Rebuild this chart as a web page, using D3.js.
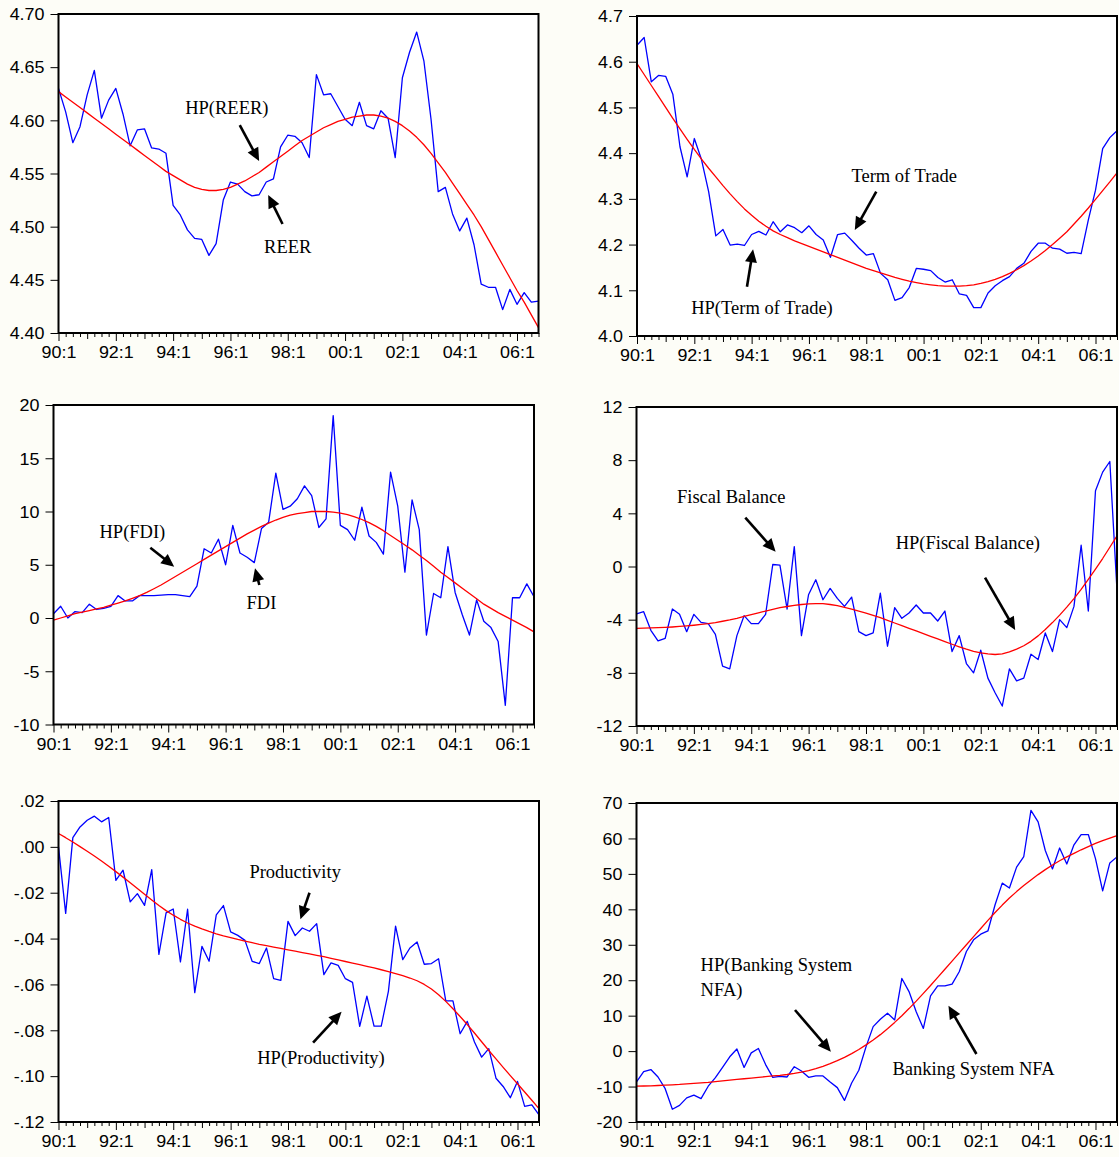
<!DOCTYPE html>
<html>
<head>
<meta charset="utf-8">
<script src="https://cdn.jsdelivr.net/npm/d3@7"></script>
<style>
  html, body { margin: 0; padding: 0; background: #fdfdf7; }
  svg { display: block; }
  .tick text { font-family: "Liberation Sans", Arial, sans-serif; font-size: 16px; fill: #000; }
  .note { font-family: "Liberation Serif", "Times New Roman", serif; font-size: 18.5px; fill: #000; }
</style>
</head>
<body>
<svg id="chart" width="1119" height="1157"></svg>
<script>
// Quarterly observations, 1990Q1 - 2006Q4 (68 quarters)
const quarterLabels = ["90:1", "92:1", "94:1", "96:1", "98:1", "00:1", "02:1", "04:1", "06:1"];

const reer = [4.630,4.608,4.579,4.594,4.624,4.647,4.602,4.619,4.630,4.606,
  4.576,4.591,4.592,4.574,4.573,4.569,4.520,4.511,4.497,4.489,
  4.488,4.473,4.484,4.525,4.542,4.540,4.533,4.529,4.530,4.542,
  4.545,4.575,4.586,4.585,4.579,4.565,4.643,4.624,4.625,4.613,
  4.601,4.595,4.617,4.595,4.592,4.609,4.602,4.565,4.640,4.664,
  4.683,4.656,4.601,4.533,4.537,4.512,4.496,4.508,4.483,4.446,
  4.443,4.443,4.422,4.441,4.427,4.438,4.429,4.430];
const hpReer = [4.627,4.622,4.617,4.612,4.607,4.602,4.597,4.592,4.587,4.582,
  4.577,4.572,4.567,4.562,4.557,4.552,4.548,4.544,4.540,4.537,
  4.535,4.534,4.534,4.535,4.537,4.540,4.543,4.547,4.551,4.556,
  4.561,4.566,4.571,4.576,4.581,4.585,4.589,4.593,4.596,4.599,
  4.601,4.603,4.604,4.605,4.605,4.604,4.602,4.599,4.595,4.590,
  4.584,4.577,4.569,4.560,4.551,4.541,4.531,4.521,4.511,4.500,
  4.488,4.476,4.464,4.452,4.440,4.429,4.417,4.405];
const reerTicks = [4.40, 4.45, 4.50, 4.55, 4.60, 4.65, 4.70];

const tot = [4.636,4.653,4.556,4.570,4.568,4.529,4.414,4.348,4.432,4.386,
  4.316,4.219,4.233,4.199,4.201,4.198,4.222,4.229,4.221,4.250,
  4.228,4.243,4.237,4.226,4.241,4.222,4.210,4.172,4.222,4.225,
  4.209,4.192,4.177,4.180,4.137,4.123,4.078,4.084,4.106,4.148,
  4.146,4.143,4.128,4.118,4.123,4.092,4.089,4.062,4.062,4.094,
  4.110,4.121,4.130,4.148,4.159,4.185,4.203,4.203,4.192,4.190,
  4.181,4.183,4.180,4.254,4.319,4.410,4.434,4.449];
const hpTot = [4.596,4.572,4.548,4.524,4.500,4.476,4.453,4.430,4.408,4.387,
  4.367,4.348,4.329,4.311,4.294,4.278,4.264,4.251,4.240,4.230,
  4.222,4.215,4.208,4.202,4.196,4.190,4.184,4.178,4.172,4.166,
  4.160,4.154,4.148,4.143,4.138,4.133,4.128,4.124,4.120,4.117,
  4.114,4.112,4.110,4.109,4.109,4.109,4.110,4.112,4.115,4.119,
  4.124,4.130,4.137,4.145,4.154,4.164,4.175,4.187,4.200,4.214,
  4.228,4.245,4.262,4.280,4.299,4.318,4.337,4.357];
const totTicks = [4.0, 4.1, 4.2, 4.3, 4.4, 4.5, 4.6, 4.7];

const fdi = [0.4,1.1,0.0,0.6,0.5,1.3,0.8,0.9,1.1,2.1,
  1.6,1.6,2.1,2.1,2.1,2.15,2.2,2.2,2.1,2.0,
  3.0,6.5,6.1,7.4,5.0,8.7,6.1,5.7,5.2,8.4,
  9.0,13.6,10.2,10.5,11.2,12.4,11.5,8.5,9.3,19.0,
  8.7,8.3,7.3,10.4,7.7,7.1,6.0,13.7,10.5,4.3,
  11.1,8.3,-1.6,2.3,1.9,6.7,2.4,0.3,-1.6,1.7,
  -0.3,-0.9,-2.2,-8.2,1.9,1.9,3.2,2.0];
const hpFdi = [-0.2,0.0,0.2,0.4,0.55,0.7,0.85,1.0,1.2,1.4,
  1.6,1.85,2.1,2.4,2.75,3.1,3.5,3.9,4.3,4.7,
  5.1,5.5,5.9,6.3,6.7,7.1,7.5,7.9,8.25,8.6,
  8.9,9.2,9.45,9.65,9.8,9.9,10.0,10.0,10.0,9.95,
  9.85,9.7,9.5,9.25,8.95,8.6,8.2,7.75,7.3,6.85,
  6.4,5.9,5.4,4.85,4.3,3.8,3.3,2.8,2.3,1.8,
  1.3,0.9,0.5,0.15,-0.2,-0.55,-0.9,-1.3];
const fdiTicks = [-10, -5, 0, 5, 10, 15, 20];

const fiscal = [-3.56,-3.4,-4.8,-5.6,-5.4,-3.2,-3.6,-4.9,-3.6,-4.2,
  -4.3,-5.1,-7.5,-7.7,-5.2,-3.7,-4.3,-4.3,-3.6,0.15,
  0.1,-3.2,1.5,-5.2,-2.1,-1.0,-2.5,-1.65,-2.4,-3.0,
  -2.3,-4.9,-5.2,-5.0,-2.0,-6.0,-3.1,-3.9,-3.5,-2.9,
  -3.5,-3.5,-4.1,-3.35,-6.4,-5.2,-7.3,-8.0,-6.3,-8.4,
  -9.5,-10.5,-7.7,-8.6,-8.4,-6.6,-7.0,-5.0,-6.4,-4.0,
  -4.6,-3.0,1.6,-3.35,5.7,7.1,7.9,-1.8];
const hpFiscal = [-4.66,-4.64,-4.62,-4.60,-4.58,-4.55,-4.51,-4.47,-4.42,-4.36,
  -4.30,-4.22,-4.12,-4.02,-3.90,-3.76,-3.62,-3.48,-3.35,-3.22,
  -3.10,-3.01,-2.93,-2.86,-2.81,-2.79,-2.80,-2.86,-2.95,-3.07,
  -3.20,-3.35,-3.50,-3.67,-3.85,-4.05,-4.25,-4.45,-4.65,-4.85,
  -5.05,-5.25,-5.45,-5.65,-5.85,-6.04,-6.22,-6.38,-6.50,-6.58,
  -6.62,-6.57,-6.43,-6.22,-5.96,-5.63,-5.22,-4.74,-4.22,-3.66,
  -3.06,-2.42,-1.72,-0.97,-0.2,0.6,1.45,2.3];
const fiscalTicks = [-12, -8, -4, 0, 4, 8, 12];

const prod = [0.000,-0.029,0.004,0.0087,0.0116,0.0134,0.0109,0.0128,-0.0146,-0.0102,
  -0.024,-0.0204,-0.0255,-0.0099,-0.0469,-0.0288,-0.0271,-0.0502,-0.0272,-0.0636,
  -0.0434,-0.0499,-0.0297,-0.0256,-0.0371,-0.0386,-0.0408,-0.0499,-0.0509,-0.0441,
  -0.0575,-0.0582,-0.0325,-0.0387,-0.0354,-0.0368,-0.0335,-0.0557,-0.0506,-0.0517,
  -0.0575,-0.0591,-0.0783,-0.0651,-0.0782,-0.0782,-0.0630,-0.0346,-0.0492,-0.0441,
  -0.0415,-0.0512,-0.0509,-0.0488,-0.0672,-0.0672,-0.0815,-0.0761,-0.0851,-0.0917,
  -0.0880,-0.1009,-0.1045,-0.1094,-0.1023,-0.1132,-0.1125,-0.1169];
const hpProd = [0.0058,0.0040,0.0021,0.0001,-0.0019,-0.0040,-0.0062,-0.0085,-0.0108,-0.0132,
  -0.0157,-0.0182,-0.0207,-0.0232,-0.0256,-0.0278,-0.0298,-0.0316,-0.0332,-0.0346,
  -0.0358,-0.0369,-0.0379,-0.0388,-0.0396,-0.0404,-0.0411,-0.0418,-0.0425,-0.0431,
  -0.0437,-0.0443,-0.0449,-0.0455,-0.0461,-0.0467,-0.0473,-0.0479,-0.0486,-0.0493,
  -0.0500,-0.0507,-0.0514,-0.0521,-0.0528,-0.0536,-0.0544,-0.0553,-0.0562,-0.0572,
  -0.0584,-0.0600,-0.0620,-0.0645,-0.0674,-0.0706,-0.0740,-0.0775,-0.0812,-0.0850,
  -0.0888,-0.0925,-0.0962,-0.0998,-0.1033,-0.1069,-0.1105,-0.1142];
const prodTicks = [-0.12, -0.10, -0.08, -0.06, -0.04, -0.02, 0.00, 0.02];

const nfa = [-8.7,-5.8,-5.2,-7.3,-10.6,-16.4,-15.3,-13.2,-12.4,-13.4,
  -9.9,-7.5,-4.6,-1.6,0.6,-4.6,-0.5,0.75,-3.8,-7.4,
  -7.1,-7.3,-4.4,-5.6,-7.4,-7.0,-7.0,-8.7,-10.3,-13.9,
  -9.0,-5.4,1.2,6.9,9.0,10.7,8.8,20.5,16.8,11.1,
  6.4,15.6,18.4,18.4,18.9,22.4,28.1,31.4,33.0,33.9,
  41.3,47.4,46.0,51.9,54.9,67.9,64.7,56.6,51.4,57.3,
  52.8,58.2,61.1,61.1,54.3,45.2,53.1,54.8];
const hpNfa = [-9.9,-9.85,-9.8,-9.7,-9.6,-9.5,-9.4,-9.25,-9.1,-8.95,
  -8.8,-8.6,-8.4,-8.2,-8.0,-7.8,-7.6,-7.4,-7.2,-7.0,
  -6.85,-6.6,-6.3,-5.95,-5.5,-4.95,-4.3,-3.55,-2.7,-1.75,
  -0.7,0.45,1.75,3.15,4.65,6.3,8.1,10.0,12.0,14.1,
  16.3,18.5,20.8,23.1,25.4,27.7,30.0,32.3,34.6,36.9,
  39.1,41.2,43.2,45.0,46.7,48.3,49.8,51.2,52.5,53.7,
  54.8,55.8,56.8,57.7,58.6,59.4,60.1,60.8];
const nfaTicks = [-20, -10, 0, 10, 20, 30, 40, 50, 60, 70];

// Callout labels and arrows, anchored in data units (quarter index, value)
const reerNotes = [{ text: ["HP(REER)"], i: 23.5, v: 4.606, anchor: "middle" },
                   { text: ["REER"], i: 32.0, v: 4.4752, anchor: "middle" }];
const reerArrows = [{ i0: 25.3, v0: 4.5956, i1: 28.0, v1: 4.5617 },
                    { i0: 31.27, v0: 4.5025, i1: 29.27, v1: 4.5298 }];
const totNotes = [{ text: ["Term of Trade"], i: 37.3, v: 4.337, anchor: "middle" },
                  { text: ["HP(Term of Trade)"], i: 17.45, v: 4.0492, anchor: "middle" }];
const totArrows = [{ i0: 33.4, v0: 4.3157, i1: 30.4, v1: 4.2319 },
                   { i0: 15.35, v0: 4.1078, i1: 16.2, v1: 4.1896 }];
const fdiNotes = [{ text: ["HP(FDI)"], i: 11.0, v: 7.51, anchor: "middle" },
                  { text: ["FDI"], i: 29.0, v: 0.89, anchor: "middle" }];
const fdiArrows = [{ i0: 13.5, v0: 6.60, i1: 16.83, v1: 4.82 },
                   { i0: 28.7, v0: 3.10, i1: 28.1, v1: 4.67 }];
const fiscalNotes = [{ text: ["Fiscal Balance"], i: 13.2, v: 4.74, anchor: "middle" },
                     { text: ["HP(Fiscal Balance)"], i: 46.2, v: 1.32, anchor: "middle" }];
const fiscalArrows = [{ i0: 15.17, v0: 3.67, i1: 19.4, v1: 1.11 },
                      { i0: 48.6, v0: -0.84, i1: 52.8, v1: -4.78 }];
const prodNotes = [{ text: ["Productivity"], i: 33.0, v: -0.0138, anchor: "middle" },
                   { text: ["HP(Productivity)"], i: 36.6, v: -0.0947, anchor: "middle" }];
const prodArrows = [{ i0: 35.0, v0: -0.020, i1: 33.73, v1: -0.0316 },
                    { i0: 35.5, v0: -0.0854, i1: 39.47, v1: -0.0719 }];
const nfaNotes = [{ text: ["HP(Banking System", "NFA)"], i: 8.94, v: 22.6, anchor: "start" },
                  { text: ["Banking System NFA"], i: 47.0, v: -6.6, anchor: "middle" }];
const nfaArrows = [{ i0: 22.1, v0: 11.6, i1: 27.1, v1: -0.17 },
                   { i0: 47.4, v0: -0.82, i1: 43.5, v1: 12.8 }];

// Number formatting with a plain hyphen for negatives
const locale = d3.formatLocale({ decimal: ".", thousands: ",", grouping: [3], currency: ["", ""], minus: "-" });
const f2 = locale.format(".2f"), f1 = locale.format(".1f"), fd = locale.format("d");
const fNoLead = v => f2(v).replace("0.", ".");

const panels = [
  { series: reer, trend: hpReer, ticks: reerTicks, fmt: f2, notes: reerNotes, arrows: reerArrows,
    box: { left: 58.5, right: 538.5, top: 14, bottom: 333 } },
  { series: tot, trend: hpTot, ticks: totTicks, fmt: f1, notes: totNotes, arrows: totArrows,
    box: { left: 637, right: 1117, top: 16, bottom: 336 } },
  { series: fdi, trend: hpFdi, ticks: fdiTicks, fmt: fd, notes: fdiNotes, arrows: fdiArrows,
    box: { left: 53.5, right: 534, top: 405, bottom: 724.5 } },
  { series: fiscal, trend: hpFiscal, ticks: fiscalTicks, fmt: fd, notes: fiscalNotes, arrows: fiscalArrows,
    box: { left: 636.5, right: 1117, top: 407, bottom: 726 } },
  { series: prod, trend: hpProd, ticks: prodTicks, fmt: fNoLead, notes: prodNotes, arrows: prodArrows,
    box: { left: 58.5, right: 539, top: 801, bottom: 1122 } },
  { series: nfa, trend: hpNfa, ticks: nfaTicks, fmt: fd, notes: nfaNotes, arrows: nfaArrows,
    box: { left: 636.5, right: 1117, top: 803, bottom: 1122 } }
];

const svg = d3.select("#chart");
const nObs = reer.length;
const TEXT_STRETCH = 1.12;

panels.forEach(p => {
  const b = p.box;
  const x = d3.scaleLinear().domain([0, nObs - 1]).range([b.left, b.right]);
  const y = d3.scaleLinear().domain([p.ticks[0], p.ticks[p.ticks.length - 1]]).range([b.bottom, b.top]);
  const g = svg.append("g");

  // plot area
  g.append("rect")
    .attr("x", b.left).attr("y", b.top)
    .attr("width", b.right - b.left).attr("height", b.bottom - b.top)
    .attr("fill", "#fff");

  // y axis
  const yAxis = g.append("g")
    .attr("transform", `translate(${b.left},0)`)
    .call(d3.axisLeft(y).tickValues(p.ticks).tickFormat(p.fmt).tickSize(8).tickPadding(6));
  yAxis.select(".domain").remove();
  yAxis.selectAll(".tick line").attr("stroke", "#000").attr("stroke-width", 1);
  yAxis.selectAll(".tick text")
    .attr("x", 0).attr("dy", "0.36em")
    .attr("transform", `translate(-14,0) scale(${TEXT_STRETCH},1)`);

  // x axis: quarterly, yearly and labelled ticks
  const allQ = d3.range(nObs);
  const qAxis = g.append("g").attr("transform", `translate(0,${b.bottom})`)
    .call(d3.axisBottom(x).tickValues(allQ.filter(i => i % 4 !== 0)).tickSize(4).tickFormat(""));
  const yrAxis = g.append("g").attr("transform", `translate(0,${b.bottom})`)
    .call(d3.axisBottom(x).tickValues(allQ.filter(i => i % 4 === 0 && i % 8 !== 0)).tickSize(6).tickFormat(""));
  const lblAxis = g.append("g").attr("transform", `translate(0,${b.bottom})`)
    .call(d3.axisBottom(x).tickValues(allQ.filter(i => i % 8 === 0))
      .tickSize(8).tickPadding(5).tickFormat(i => quarterLabels[i / 8]));
  [qAxis, yrAxis, lblAxis].forEach(a => {
    a.select(".domain").remove();
    a.selectAll(".tick line").attr("stroke", "#000").attr("stroke-width", 1);
  });
  lblAxis.selectAll(".tick text")
    .attr("y", 0).attr("dy", 0)
    .attr("transform", `translate(0,25) scale(${TEXT_STRETCH},1)`);

  // series and HP trend
  const line = d3.line().x((d, i) => x(i)).y(d => y(d));
  g.append("path").datum(p.series)
    .attr("fill", "none").attr("stroke", "#0000ff").attr("stroke-width", 1.3)
    .attr("stroke-linejoin", "round").attr("d", line);
  g.append("path").datum(p.trend)
    .attr("fill", "none").attr("stroke", "#ff0000").attr("stroke-width", 1.3)
    .attr("stroke-linejoin", "round").attr("d", line);

  // frame
  g.append("rect")
    .attr("x", b.left).attr("y", b.top)
    .attr("width", b.right - b.left).attr("height", b.bottom - b.top)
    .attr("fill", "none").attr("stroke", "#000").attr("stroke-width", 2);

  // callout labels
  p.notes.forEach(n => {
    const t = g.append("text").attr("class", "note")
      .attr("x", x(n.i)).attr("y", y(n.v)).attr("text-anchor", n.anchor);
    n.text.forEach((s, k) => {
      t.append("tspan").attr("x", x(n.i)).attr("dy", k === 0 ? 0 : 24.5).text(s);
    });
  });

  // callout arrows with solid heads
  p.arrows.forEach(a => {
    const x0 = x(a.i0), y0 = y(a.v0), x1 = x(a.i1), y1 = y(a.v1);
    const len = Math.hypot(x1 - x0, y1 - y0);
    const ux = (x1 - x0) / len, uy = (y1 - y0) / len;
    const headL = 13, headW = 6;
    const bx = x1 - ux * headL, by = y1 - uy * headL;
    g.append("line")
      .attr("x1", x0).attr("y1", y0).attr("x2", bx + ux * 2).attr("y2", by + uy * 2)
      .attr("stroke", "#000").attr("stroke-width", 2.6);
    g.append("path")
      .attr("d", `M${x1},${y1}L${bx - uy * headW},${by + ux * headW}L${bx + uy * headW},${by - ux * headW}Z`)
      .attr("fill", "#000");
  });
});
</script>
</body>
</html>
